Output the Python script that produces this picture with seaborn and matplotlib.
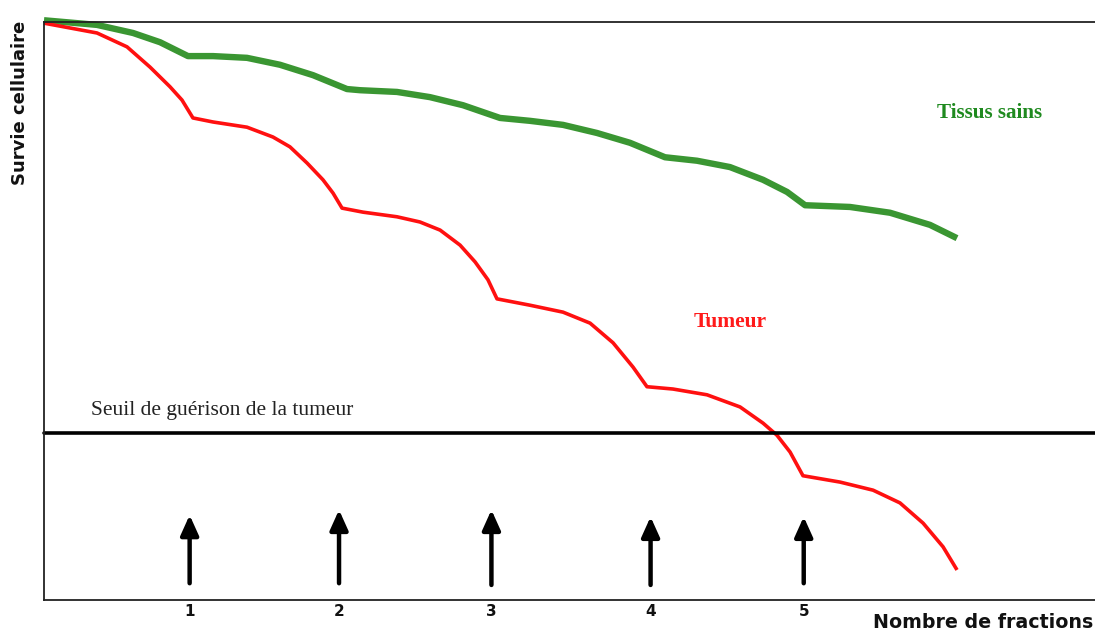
import numpy as np
import pandas as pd
import matplotlib
matplotlib.use("Agg")
import matplotlib.pyplot as plt
import seaborn as sns

# ---- data (x in fraction units, y = relative survival 0..1) ----
green_x = [0.000, 0.353, 0.593, 0.773, 0.959,
           1.126, 1.352, 1.572, 1.792, 1.905, 2.018,
           2.105, 2.351, 2.571, 2.791, 3.037,
           3.237, 3.457, 3.683, 3.903, 4.136,
           4.349, 4.569, 4.789, 4.949, 5.069,
           5.368, 5.635, 5.901, 6.081]
green_y = [1.003, 0.995, 0.981, 0.965, 0.941,
           0.941, 0.938, 0.926, 0.908, 0.896, 0.884,
           0.882, 0.879, 0.870, 0.856, 0.834,
           0.829, 0.822, 0.808, 0.791, 0.766,
           0.760, 0.749, 0.727, 0.706, 0.683,
           0.680, 0.670, 0.649, 0.626]

red_x = [0.000, 0.353, 0.553, 0.706, 0.839, 0.919, 0.992,
         1.126, 1.352, 1.525, 1.638, 1.752, 1.858, 1.925, 1.985,
         2.125, 2.351, 2.504, 2.638, 2.771, 2.871, 2.957, 3.017,
         3.237, 3.457, 3.637, 3.790, 3.923, 4.016,
         4.189, 4.416, 4.636, 4.789, 4.882, 4.969, 5.055,
         5.302, 5.522, 5.701, 5.855, 5.988, 6.081]
red_y = [0.998, 0.981, 0.957, 0.922, 0.888, 0.865, 0.834,
         0.827, 0.818, 0.801, 0.784, 0.756, 0.727, 0.704, 0.678,
         0.671, 0.663, 0.654, 0.640, 0.614, 0.585, 0.554, 0.521,
         0.510, 0.498, 0.479, 0.445, 0.403, 0.369,
         0.365, 0.355, 0.334, 0.306, 0.285, 0.256, 0.215,
         0.204, 0.190, 0.168, 0.133, 0.092, 0.052]

series_names = ["Tissus sains", "Tumeur"]
tick_pos = [0.97, 1.965, 2.98, 4.04, 5.06]
tick_labels = ["1", "2", "3", "4", "5"]
threshold = 0.289
arrow_x = [0.97, 1.965, 2.98, 4.04, 5.06]
arrow_tail = [0.029, 0.029, 0.026, 0.026, 0.029]
arrow_head = [0.147, 0.156, 0.156, 0.144, 0.144]

df = pd.concat([
    pd.DataFrame({"x": green_x, "y": green_y, "serie": series_names[0]}),
    pd.DataFrame({"x": red_x, "y": red_y, "serie": series_names[1]}),
], ignore_index=True)

sns.set_theme(style="white")
W, H = 1095, 633
fig = plt.figure(figsize=(W / 100, H / 100), dpi=100)
ax = fig.add_axes([44 / W, (H - 600) / H, (W - 44) / W, (600 - 22) / H])

green_c = "#3a9632"
red_c = "#ff1010"
for name, col, lw in [(series_names[0], green_c, 4.6), (series_names[1], red_c, 2.6)]:
    sns.lineplot(data=df[df["serie"] == name], x="x", y="y", sort=False, estimator=None,
                 color=col, linewidth=lw, ax=ax, clip_on=False, legend=False,
                 solid_joinstyle="round", solid_capstyle="butt")

ax.set_xlim(0, 7.0)
ax.set_ylim(0, 1)
ax.axhline(threshold, color="black", linewidth=2.6, clip_on=False)

for x, t, h in zip(arrow_x, arrow_tail, arrow_head):
    ax.annotate("", xy=(x, h), xytext=(x, t),
                arrowprops=dict(arrowstyle="-|>,head_length=1.0,head_width=0.45",
                                color="black", lw=3.2, shrinkA=0, shrinkB=0))

for side in ["left", "bottom", "top"]:
    ax.spines[side].set_visible(True)
    ax.spines[side].set_color("#222222")
    ax.spines[side].set_linewidth(1.3)
ax.spines["right"].set_visible(False)

ax.set_yticks([])
ax.set_xticks(tick_pos)
ax.set_xticklabels(tick_labels, fontsize=11, fontweight="bold", color="#111111")
ax.tick_params(axis="x", length=0, pad=3)
ax.set_xlabel("")
ax.set_ylabel("")

fig.text(20 / W, 1 - 103 / H, "Survie cellulaire", rotation=90, ha="center", va="center",
         fontsize=13, fontweight="bold", color="#111111")
fig.text(873 / W, 1 - 622 / H, "Nombre de fractions", ha="left", va="center",
         fontsize=13.7, fontweight="bold", color="#111111")

serif = ["Liberation Serif", "DejaVu Serif"]
ax.text(0.31, threshold + 0.038, "Seuil de guérison de la tumeur", family=serif,
        fontsize=15.5, color="#222222", ha="left", va="center")
ax.text(5.95, (600 - 113) / 578, "Tissus sains", family=serif, fontsize=15.2,
        fontweight="bold", color="#1f8a1f", ha="left", va="center")
ax.text(4.33, (600 - 322) / 578, "Tumeur", family=serif, fontsize=15.5,
        fontweight="bold", color="#ff1a1a", ha="left", va="center")

fig.savefig("out.png", dpi=100, facecolor="white")
